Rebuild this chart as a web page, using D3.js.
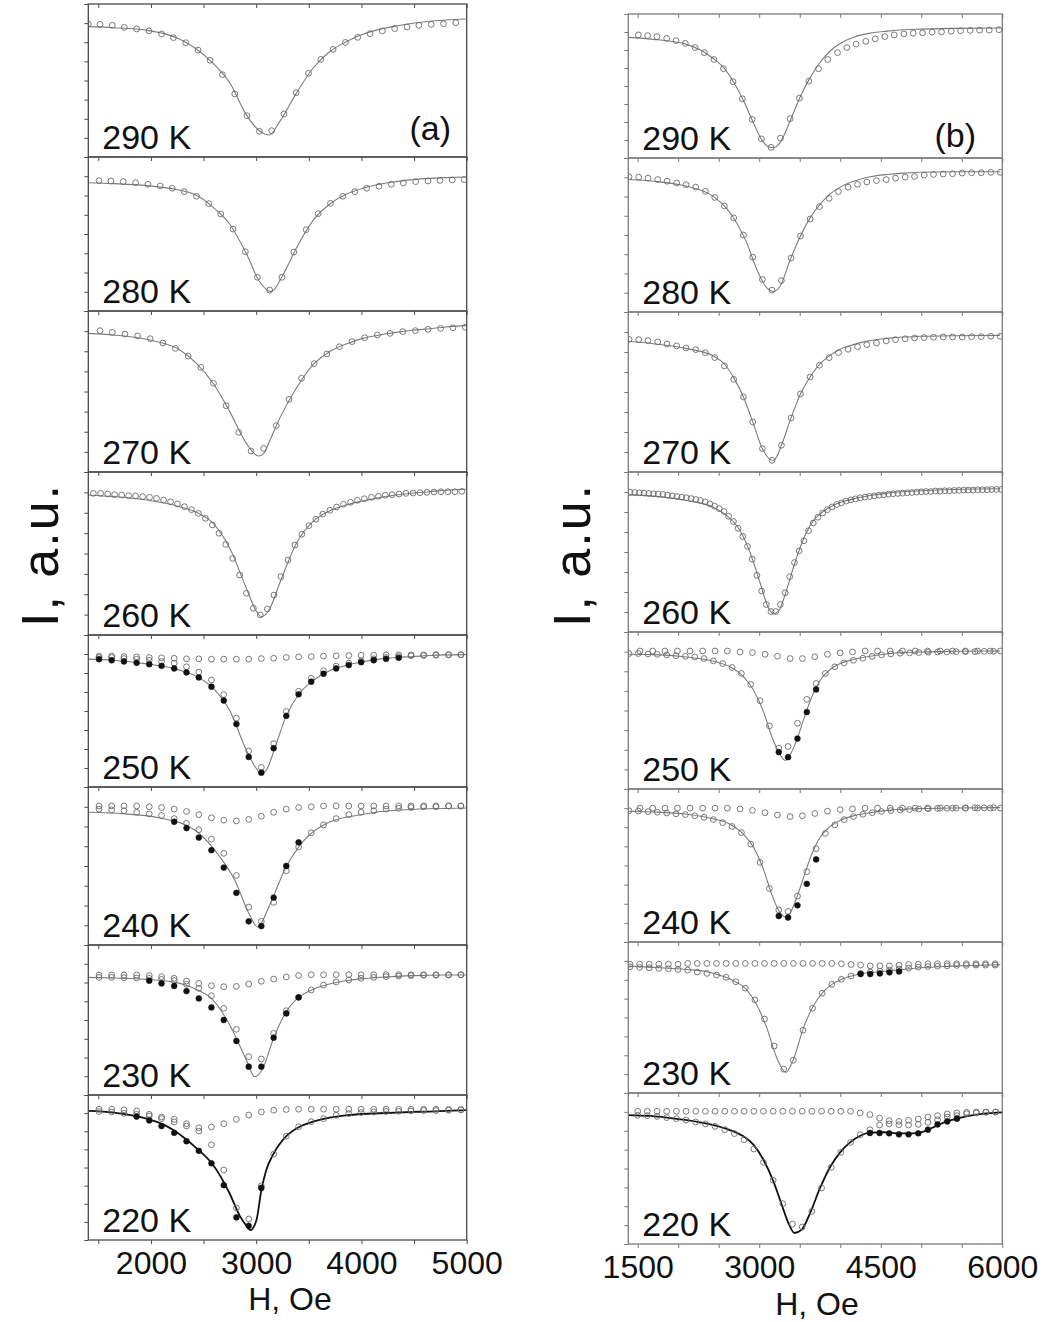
<!DOCTYPE html>
<html>
<head>
<meta charset="utf-8">
<script src="https://cdn.jsdelivr.net/npm/d3@7"></script>
<style>
  body { margin: 0; background: #fff; }
  svg { display: block; }
  text { font-family: "Liberation Sans", Arial, sans-serif; }
</style>
</head>
<body>
<div id="chart"></div>
<script>
// ---------- data (H in Oe, I in a.u. scaled 0..100 inside each panel) ----------
var temps = ["290 K", "280 K", "270 K", "260 K", "250 K", "240 K", "230 K", "220 K"];

// column (a)
var gridA290 = [1405,1516,1633,1747,1864,1981,2101,2214,2331,2448,2562,2679,2796,2913,3030,3147,3264,3380,3497,3614,3731,3848,3965,4082,4199,4316,4433,4546,4663,4780,4897];
var a290Open = [86.9,86.7,86.1,84.7,83.7,82.4,80.4,78.0,74.7,69.9,63.2,53.8,41.2,27.0,16.8,17.2,28.1,42.0,54.7,63.8,70.4,74.9,78.2,80.6,82.4,83.9,85.0,86.1,86.7,87.1,87.8];
var a290FitH = [1405,1643,1959,2117,2275,2432,2591,2749,2907,3033,3128,3223,3381,3539,3697,3855,4013,4171,4329,4487,4645,4803,4992];
var a290FitI = [85.2,84.5,82.8,80.8,76.9,70.6,61.2,48.5,27.5,17.0,14.4,23.1,41.6,58.0,68.8,75.4,80.2,83.4,85.6,87.4,88.7,89.5,90.2];

var gridA280 = [1507,1620,1737,1854,1971,2088,2202,2316,2433,2549,2663,2780,2897,3011,3128,3245,3358,3475,3589,3706,3823,3937,4050,4167,4284,4398,4515,4632,4746,4863,4976];
var a280Open = [84.6,84.4,84.0,83.3,82.3,81.2,79.7,77.5,74.5,69.7,63.0,53.2,38.5,21.9,13.6,21.9,38.3,52.8,63.2,69.9,74.5,77.5,79.7,81.0,82.3,83.1,84.0,84.4,84.8,85.1,85.3];
var a280FitH = [1405,1643,1959,2275,2432,2591,2749,2907,3033,3143,3254,3381,3539,3697,3855,4013,4171,4329,4487,4645,4803,4992];
var a280FitI = [83.3,82.7,81.4,78.4,75.1,67.3,56.3,37.2,19.0,12.6,23.4,40.7,58.7,69.3,75.8,79.7,82.3,84.0,85.3,86.1,86.6,87.0];

var gridA270 = [1516,1633,1753,1873,1993,2113,2233,2354,2474,2594,2714,2834,2951,3071,3191,3311,3431,3551,3671,3791,3911,4031,4151,4272,4392,4512,4632,4752,4869,4986];
var a270Open = [87.8,86.7,85.7,84.5,82.8,80.1,76.8,72.0,65.0,55.1,41.2,24.6,13.0,14.7,28.8,45.1,58.2,67.3,73.3,77.8,81.0,83.4,85.1,86.1,87.2,87.8,88.6,89.2,89.6,89.9];
var a270FitH = [1405,1643,1959,2275,2432,2591,2749,2907,3023,3071,3128,3223,3381,3539,3697,3855,4013,4171,4329,4487,4645,4803,4992];
var a270FitI = [86.1,85.1,82.4,75.8,67.5,55.1,37.5,17.8,9.9,11.6,19.3,33.3,52.0,66.5,74.7,79.5,83.0,85.1,86.7,88.0,89.0,90.1,90.9];

var gridA260 = [1453,1522,1589,1655,1722,1788,1854,1921,1987,2053,2120,2186,2252,2319,2385,2451,2518,2584,2647,2711,2777,2843,2907,2973,3039,3106,3169,3235,3302,3368,3434,3501,3567,3633,3700,3763,3829,3896,3962,4028,4095,4161,4227,4291,4357,4423,4490,4556,4622,4689,4755,4821,4888,4954];
var a260Open = [86.9,86.9,86.5,86.1,85.9,85.5,85.3,84.9,84.5,83.8,82.8,81.8,80.4,78.7,76.9,74.6,71.6,67.5,62.4,55.6,47.0,36.8,25.6,16.4,12.3,16.0,24.5,35.8,46.0,55.2,61.8,67.1,71.0,74.2,76.5,78.5,80.2,81.4,82.6,83.6,84.5,85.1,85.7,86.1,86.5,86.9,87.1,87.3,87.5,87.7,87.9,87.9,87.9,88.1];
var a260FitH = [1405,1643,1959,2275,2432,2591,2749,2907,3001,3049,3128,3223,3381,3539,3697,3855,4013,4171,4329,4487,4645,4803,4992];
var a260FitI = [85.9,84.9,82.8,78.7,75.3,68.5,53.2,28.6,14.7,11.2,16.0,31.7,56.2,69.5,76.1,79.8,82.2,84.3,85.9,87.1,87.9,88.8,89.4];

var gridALow = [1507,1627,1744,1864,1984,2101,2221,2338,2455,2575,2692,2812,2929,3049,3166,3286,3403,3523,3640,3760,3880,3997,4117,4234,4354,4471,4591,4708,4828,4945];

var a250Flat = [86.1,86.1,85.8,85.6,85.2,85.0,84.7,84.3,84.3,84.1,84.1,84.1,84.1,84.5,84.7,85.2,85.6,85.8,86.1,86.3,86.5,86.7,86.7,86.9,86.9,86.9,86.9,87.1,87.1,87.1];
var a250Open = [85.2,85.2,84.5,84.1,83.4,82.6,81.5,79.1,75.6,70.4,60.8,45.3,23.7,12.9,28.5,49.7,63.0,71.5,76.5,79.5,81.5,83.0,84.3,85.2,85.8,86.3,86.5,86.7,86.9,86.9];
var a250FillH = [1507,1627,1744,1864,1984,2101,2221,2338,2455,2575,2692,2812,2929,3049,3166,3286,3403,3523,3640,3760,3880,3997,4117,4234,4354];
var a250FillI = [84.1,83.4,82.6,81.7,80.8,79.7,78.0,75.4,72.1,66.0,56.9,41.4,19.8,9.4,25.5,46.8,61.0,69.3,74.5,78.0,80.2,82.1,83.4,84.3,85.0];
var a250FitH = [1405,1643,1959,2275,2432,2591,2749,2907,3001,3049,3096,3191,3286,3412,3539,3697,3855,4013,4171,4329,4487,4645,4803,4992];
var a250FitI = [84.1,83.4,81.0,76.9,72.8,65.1,50.3,24.2,12.2,8.9,11.1,28.5,46.8,61.7,69.9,76.5,80.0,82.4,84.1,85.2,85.8,86.5,86.9,87.1];

var a240Flat = [88,88,88,88,87.5,87,86,84.5,82.5,80.5,79,78.5,79.5,81.5,84,86,87,87.5,88,88,88,88,88,88,88,88,88,88,88,88];
var a240Open = [86,85.5,85,84,83,82,80,77,73,67,58,44,24,15,27,47,62,71,76,80,82.5,84,85,86,86.5,87,87.5,87.5,88,88];
var a240FillH = [2221,2338,2455,2575,2692,2812,2929,3049,3166,3286,3403];
var a240FillI = [78,74,68,60,49,33,15,12,30,50,65];
var a240FitH = [1405,1750,2085,2417,2606,2796,2938,3014,3128,3270,3459,3696,3980,4360,4995];
var a240FitI = [84,83,80.4,72.8,60.1,41.1,19,11.4,25.3,47.5,66.5,77.8,82.3,85.4,86.7];

var a230Flat = [80.0,80.0,80.0,80.0,79.6,78.9,77.8,76.0,74.4,72.9,72.2,72.4,74.0,75.8,77.3,78.7,79.6,80.2,80.2,80.2,80.2,80.2,80.2,80.2,80.2,80.2,80.2,80.2,80.2,80.2];
var a230Open = [78.4,78.4,78.2,78.0,77.8,77.1,76.2,73.8,71.1,66.2,57.8,43.8,25.6,24.0,41.1,56.2,65.1,70.0,73.3,75.3,76.7,77.8,78.4,78.9,79.3,79.6,79.8,79.8,80.0,80.0];
var a230FillH = [1984,2101,2221,2338,2455,2575,2692,2812,2929,3049,3166,3286,3403];
var a230FillI = [76.2,74.4,72.7,69.3,64.4,58.4,50.0,36.0,18.9,18.9,38.2,54.4,65.1];
var a230FitH = [1405,1643,1959,2275,2432,2591,2749,2907,2986,3064,3159,3286,3412,3539,3697,3855,4013,4171,4329,4487,4645,4803,4992];
var a230FitI = [78.4,78.0,77.1,74.4,70.4,63.3,46.7,23.3,12.2,17.8,36.7,55.6,65.6,70.4,74.0,76.2,77.6,78.4,79.1,79.6,79.8,80.0,80.0];

var a220Flat = [90.2,90.2,89.7,89.0,86.7,84.8,83.2,80.2,77.4,77.9,80.2,83.2,86.2,88.3,89.5,90.0,90.2,90.2,90.2,90.2,90.2,90.2,90.2,90.2,90.2,90.2,90.2,90.2,90.0,90.0];
var a220Open = [88.6,88.3,87.4,86.7,85.5,83.7,81.4,78.6,75.1,65.7,48.3,22.1,14.5,37.3,59.2,71.6,78.1,81.6,83.7,86.0,87.2,87.9,88.3,88.6,88.8,89.0,89.3,89.3,89.5,89.7];
var a220FillH = [1864,1984,2101,2221,2338,2455,2575,2692,2812,2929,3049];
var a220FillI = [85.1,82.5,78.6,73.9,68.1,61.5,52.9,37.8,15.6,9.8,35.9];
var a220FitH = [1405,1643,1959,2117,2275,2432,2591,2749,2843,2907,2944,3001,3049,3096,3159,3286,3412,3539,3697,3855,4013,4171,4329,4487,4645,4803,4992];
var a220FitI = [89.0,87.9,83.7,79.7,72.7,63.4,51.7,31.9,16.8,9.8,6.8,13.3,34.3,48.3,58.7,71.6,78.1,81.6,84.4,86.0,86.9,87.4,87.9,88.3,88.6,89.0,89.5];

// column (b)
var gridB290 = [1508,1623,1738,1858,1973,2088,2208,2323,2442,2558,2677,2792,2912,3027,3146,3262,3381,3496,3612,3731,3846,3966,4081,4196,4316,4431,4550,4666,4785,4900,5016,5135,5250,5370,5485,5604,5720,5839,5958];
var b290Open = [85.5,85.0,84.3,83.1,81.5,79.6,76.7,73.2,68.4,62.0,53.0,41.1,26.8,13.3,7.4,13.8,27.3,41.6,53.4,62.0,68.4,73.2,76.7,79.1,81.0,82.7,84.3,85.5,86.2,86.7,86.9,87.4,87.6,88.1,88.4,88.6,88.8,88.8,89.1];
var b290FitH = [1384,1693,2105,2434,2558,2681,2805,2928,3031,3113,3175,3258,3381,3505,3628,3752,3875,3999,4163,4369,4575,4781,4987,5398,5975];
var b290FitI = [83.8,82.4,78.9,69.1,62.9,53.0,39.9,24.5,12.6,7.8,7.1,10.7,25.7,42.3,55.8,66.5,74.3,79.5,83.8,86.7,88.1,89.1,89.5,90.0,90.3];

var gridB280 = [1393,1512,1627,1747,1862,1981,2097,2216,2335,2451,2570,2685,2805,2920,3039,3159,3274,3393,3509,3628,3743,3863,3978,4097,4213,4328,4447,4567,4682,4801,4917,5036,5151,5271,5386,5505,5621,5740,5859,5975];
var b280Open = [87.8,87.6,86.9,86.0,84.9,83.8,82.7,81.1,78.4,74.4,68.9,61.1,50.0,35.6,21.1,14.2,20.4,35.1,49.3,60.4,68.4,73.8,78.2,81.1,82.9,84.4,85.3,86.0,86.9,87.6,88.0,88.9,89.3,89.6,89.8,90.2,90.4,90.4,90.7,90.7];
var b280FitH = [1384,1693,2105,2434,2599,2722,2846,2969,3093,3175,3258,3381,3505,3628,3752,3875,3999,4163,4369,4575,4781,4987,5398,5975];
var b280FitI = [86.0,84.9,81.6,75.1,67.1,57.8,44.9,27.8,15.6,13.3,16.7,33.8,48.9,61.1,70.0,76.7,81.1,84.9,87.8,89.3,90.2,90.7,91.1,91.1];

var b270Open = [82.9,82.7,82.1,81.3,80.0,78.8,77.5,76.5,74.6,71.5,66.3,57.9,46.9,31.3,14.6,7.3,16.7,33.8,48.8,59.4,66.7,71.5,74.6,76.7,78.3,79.6,80.6,81.9,82.7,83.3,83.8,84.0,84.2,84.4,84.4,84.4,84.6,84.6,84.8,84.8];
var b270FitH = [1384,1693,2105,2434,2570,2685,2805,2920,3039,3134,3175,3216,3274,3393,3509,3628,3752,3875,3999,4163,4369,4575,4781,4987,5398,5975];
var b270FitI = [81.7,80.2,77.1,72.5,67.5,59.0,46.9,31.3,14.6,7.9,7.3,9.6,16.7,33.8,48.8,59.4,67.7,72.9,76.7,79.6,82.1,83.5,84.4,84.8,85.2,85.4];

var gridB260 = [1405,1463,1521,1579,1637,1695,1753,1811,1869,1927,1985,2043,2101,2159,2217,2275,2333,2391,2449,2507,2565,2623,2681,2739,2797,2855,2913,2971,3029,3087,3145,3203,3261,3319,3377,3435,3493,3551,3609,3667,3725,3783,3841,3899,3957,4015,4073,4131,4189,4247,4305,4363,4421,4479,4537,4595,4653,4711,4769,4827,4885,4943,5001,5059,5117,5175,5233,5291,5349,5407,5465,5523,5581,5639,5697,5755,5813,5871,5929,5987];
var b260Open = [87.4,87.2,87.0,86.8,86.6,86.4,86.2,86.0,85.5,85.1,84.7,84.3,83.9,83.4,82.8,82.2,81.3,80.1,78.6,77.1,75.3,72.3,69.0,64.8,59.7,53.5,45.5,35.4,25.6,17.2,12.8,12.8,17.2,24.5,34.6,43.4,50.7,57.0,63.3,68.1,71.7,74.4,76.5,78.2,79.7,80.7,81.8,82.6,83.2,83.9,84.3,84.7,85.1,85.5,85.7,86.2,86.4,86.6,86.8,87.0,87.2,87.4,87.6,87.8,87.8,88.1,88.1,88.3,88.3,88.5,88.5,88.7,88.7,88.7,88.9,88.9,88.9,89.1,89.1,89.1];
var b260FitH = [1384,1693,2105,2434,2599,2764,2887,3010,3113,3175,3237,3340,3422,3546,3669,3752,3957,4163,4369,4575,4987,5398,5975];
var b260FitI = [85.7,84.9,82.2,78.0,72.7,63.3,49.7,30.8,15.1,11.5,13.0,26.6,40.3,58.1,69.6,73.8,80.1,83.2,85.3,86.8,88.3,89.1,89.5];

var gridB250Flat = [1528,1685,1837,1990,2146,2302,2455,2607,2764,2916,3072,3225,3381,3533,3686,3842,3999,4151,4307,4460,4616,4768,4925,5077,5234,5386,5542,5695,5851,5975];
var gridB250 = [1393,1508,1627,1742,1858,1973,2088,2204,2319,2434,2549,2665,2780,2895,3010,3126,3241,3356,3472,3587,3702,3817,3933,4048,4163,4279,4394,4509,4624,4740,4855,4970,5086,5201,5316,5431,5547,5662,5777,5892];
var b250Flat = [87.9,87.9,87.9,87.9,87.9,87.9,87.9,87.9,87.3,86.9,85.8,84.6,83.1,83.1,84.2,85.8,86.7,87.3,87.9,87.9,87.9,87.9,87.9,87.9,87.9,87.9,87.9,87.9,87.9,87.9];
var b250Open = [86.3,86.3,86.0,85.8,85.4,84.9,84.5,84.1,83.1,81.6,79.9,77.4,73.6,66.6,56.2,40.2,26.0,27.1,41.9,57.1,67.2,73.6,77.8,80.3,82.0,83.3,84.5,85.4,86.0,86.5,86.7,86.9,87.1,87.3,87.3,87.5,87.5,87.5,87.7,87.7];
var b250FillH = [3241,3356,3472,3587,3702];
var b250FillI = [23.5,20.3,32.1,49.0,63.4];
var b250FitH = [1384,1693,2105,2434,2640,2805,2928,3052,3155,3258,3319,3381,3463,3546,3649,3752,3875,3999,4163,4369,4575,4781,4987,5398,5975];
var b250FitI = [85.8,85.6,84.1,81.4,77.8,71.5,63.0,49.3,33.4,21.8,18.2,21.8,31.3,44.0,58.8,69.3,76.1,79.9,82.5,84.6,86.0,86.9,87.3,87.7,87.9];

var b240Flat = [87.5,87.5,87.5,87.5,87.5,87.5,87.5,87.5,87.0,86.0,84.5,83.0,82.0,82.5,84.0,85.5,86.5,87.0,87.5,87.5,87.5,87.5,87.5,87.5,87.5,87.5,87.5,87.5,87.5,87.5];
var b240Open = [85.8,85.6,85.2,84.8,84.3,83.8,83.3,82.5,81.5,80.0,78.0,75.5,71.5,64.0,52.0,35.0,21.0,20.0,30.0,46.0,61.0,71.0,76.5,80.0,82.0,83.5,84.5,85.3,85.9,86.3,86.6,86.9,87.1,87.3,87.4,87.5,87.6,87.7,87.7,87.8];
var b240FillH = [3241,3356,3472,3587,3702];
var b240FillI = [17,16,24,38,54];
var b240FitH = [1384,1693,2105,2434,2640,2805,2928,3052,3155,3258,3319,3381,3463,3546,3649,3752,3875,3999,4163,4369,4575,4781,4987,5398,5975];
var b240FitI = [85.5,85.0,83.5,80.5,77.0,70.5,62.0,47.5,31.0,19.0,16.5,19.0,29.0,42.0,57.5,68.5,75.5,79.5,82.5,84.5,86.0,86.8,87.2,87.6,87.8];

var gridB230 = [1405,1524,1642,1761,1879,1998,2117,2235,2354,2472,2591,2710,2828,2947,3065,3184,3303,3421,3540,3658,3777,3896,4014,4133,4251,4370,4489,4607,4726,4844,4963,5082,5200,5319,5437,5556,5675,5793,5912];
var b230Flat = [85.3,85.3,85.3,85.3,85.3,85.3,85.8,85.8,85.8,85.8,85.8,85.8,85.8,85.8,85.8,85.8,85.8,85.8,85.8,85.8,85.8,85.8,85.6,85.1,84.7,84.2,84.2,84.2,84.7,85.1,85.3,85.6,85.6,85.6,85.6,85.6,85.6,85.6,85.6];
var b230Open = [83.6,83.2,82.9,82.5,82.3,81.8,81.4,80.1,79.2,78.1,76.6,73.7,69.4,61.7,49.0,31.1,15.8,21.7,41.6,56.2,66.1,72.0,75.3,77.5,79.2,80.1,80.7,81.4,82.1,82.7,83.4,83.8,84.0,84.2,84.5,84.5,84.7,84.7,84.7];
var b230FillH = [4251,4370,4489,4607,4726];
var b230FillI = [78.8,78.8,79.2,79.9,80.5];
var b230FitH = [1384,1693,2105,2352,2516,2681,2846,2969,3093,3216,3328,3422,3546,3669,3793,3916,4081,4246,4493,4781,4987,5398,5975];
var b230FitI = [84.0,83.2,81.8,80.3,77.9,74.4,68.3,58.4,43.1,23.4,13.6,22.3,43.1,57.8,67.2,72.6,76.6,78.8,80.3,81.8,82.9,84.0,84.9];

var gridB220 = [1500,1619,1739,1858,1978,2097,2216,2336,2455,2575,2694,2813,2933,3052,3172,3291,3410,3530,3649,3769,3888,4007,4127,4246,4366,4485,4604,4724,4843,4963,5082,5201,5321,5440,5560,5679,5798,5918];
var b220Flat = [87.9,87.9,87.9,87.9,87.9,87.9,87.9,87.9,87.9,87.9,87.9,87.9,87.9,87.9,87.9,87.9,87.9,87.9,87.9,87.9,87.9,87.9,87.9,86.8,85.7,83.4,81.7,81.2,81.9,82.8,84.1,85.0,86.1,86.8,87.2,87.4,87.4,87.4];
var b220Open = [85.2,85.0,84.5,83.7,83.0,82.1,80.8,79.5,77.9,75.7,73.1,69.1,62.9,54.1,42.2,26.7,13.2,11.3,21.6,37.1,50.8,60.7,67.3,72.4,75.7,78.8,79.5,79.0,78.8,79.2,80.6,82.3,84.1,85.0,86.3,86.8,87.2,87.4];
var b220FillH = [4366,4485,4604,4724,4843,4963,5082,5201,5321,5440];
var b220FillI = [73.5,73.5,73.3,72.6,72.6,73.3,75.7,79.2,81.2,83.0];
var b220FitH = [1384,1652,1858,2270,2599,2805,2928,3052,3175,3278,3360,3434,3525,3628,3751,3875,3999,4122,4246,4369,4534,4740,4904,5028,5151,5275,5440,5604,5769,6000];
var b220FitI = [85.4,84.8,83.7,80.6,76.2,71.3,65.8,55.8,41.5,26.0,13.9,7.3,9.5,20.5,37.1,51.0,60.7,67.3,71.7,73.7,74.0,73.3,73.3,74.4,77.3,80.4,83.0,85.0,86.3,87.2];

// ticks
var tickHA = [1500,2000,2500,3000,3500,4000,4500,5000];
var labelHA = [2000,3000,4000,5000];
var tickHB = [1500,2000,2500,3000,3500,4000,4500,5000,5500,6000];
var labelHB = [1500,3000,4500,6000];
var tickI = [0,12.5,25,37.5,50,62.5,75,87.5,100];

// ---------- layout ----------
var width = 1043, height = 1322;
var leftEdges = [4,157,311,472,635,787,945,1095,1240];
var rightEdges = [14,158,312,472,632,789,942,1093,1244];

function pts(h, i) { return d3.zip(h, i); }

var panelsA = [
  { fit: pts(a290FitH, a290FitI), open: [pts(gridA290, a290Open)], filled: [] },
  { fit: pts(a280FitH, a280FitI), open: [pts(gridA280, a280Open)], filled: [] },
  { fit: pts(a270FitH, a270FitI), open: [pts(gridA270, a270Open)], filled: [] },
  { fit: pts(a260FitH, a260FitI), open: [pts(gridA260, a260Open)], filled: [] },
  { fit: pts(a250FitH, a250FitI), open: [pts(gridALow, a250Flat), pts(gridALow, a250Open)], filled: pts(a250FillH, a250FillI) },
  { fit: pts(a240FitH, a240FitI), open: [pts(gridALow, a240Flat), pts(gridALow, a240Open)], filled: pts(a240FillH, a240FillI) },
  { fit: pts(a230FitH, a230FitI), open: [pts(gridALow, a230Flat), pts(gridALow, a230Open)], filled: pts(a230FillH, a230FillI) },
  { fit: pts(a220FitH, a220FitI), open: [pts(gridALow, a220Flat), pts(gridALow, a220Open)], filled: pts(a220FillH, a220FillI), dark: true }
];
var panelsB = [
  { fit: pts(b290FitH, b290FitI), open: [pts(gridB290, b290Open)], filled: [] },
  { fit: pts(b280FitH, b280FitI), open: [pts(gridB280, b280Open)], filled: [] },
  { fit: pts(b270FitH, b270FitI), open: [pts(gridB280, b270Open)], filled: [] },
  { fit: pts(b260FitH, b260FitI), open: [pts(gridB260, b260Open)], filled: [] },
  { fit: pts(b250FitH, b250FitI), open: [pts(gridB250Flat, b250Flat), pts(gridB250, b250Open)], filled: pts(b250FillH, b250FillI) },
  { fit: pts(b240FitH, b240FitI), open: [pts(gridB250Flat, b240Flat), pts(gridB250, b240Open)], filled: pts(b240FillH, b240FillI) },
  { fit: pts(b230FitH, b230FitI), open: [pts(gridB230, b230Flat), pts(gridB230, b230Open)], filled: pts(b230FillH, b230FillI) },
  { fit: pts(b220FitH, b220FitI), open: [pts(gridB220, b220Flat), pts(gridB220, b220Open)], filled: pts(b220FillH, b220FillI), dark: true }
];

var columns = [
  { id: "a", edges: leftEdges, xRange: [88.3, 466.7], xDomain: [1405, 5000], ticks: tickHA, labels: labelHA,
    panels: panelsA, frame: "#4a4a4a", tag: "(a)", tagX: 451, tagY: 140, yLabelX: 58, hLabelX: 290, hLabelY: 1310 },
  { id: "b", edges: rightEdges, xRange: [628.3, 1002.3], xDomain: [1384, 6000], ticks: tickHB, labels: labelHB,
    panels: panelsB, frame: "#7a7a7a", tag: "(b)", tagX: 976, tagY: 147, yLabelX: 590, hLabelX: 817, hLabelY: 1315 }
];

var svg = d3.select("#chart").append("svg")
  .attr("width", width)
  .attr("height", height);

columns.forEach(function(col) {
  var x = d3.scaleLinear().domain(col.xDomain).range(col.xRange);

  col.panels.forEach(function(p, k) {
    var top = col.edges[k], bottom = col.edges[k + 1];
    var y = d3.scaleLinear().domain([0, 100]).range([bottom, top]);
    var g = svg.append("g");

    var clipId = "clip-" + col.id + k;
    g.append("clipPath").attr("id", clipId)
      .append("rect")
        .attr("x", col.xRange[0]).attr("y", top)
        .attr("width", col.xRange[1] - col.xRange[0]).attr("height", bottom - top);

    var plot = g.append("g").attr("clip-path", "url(#" + clipId + ")");

    // fitted curve
    var line = d3.line()
      .x(d => x(d[0]))
      .y(d => y(d[1]))
      .curve(d3.curveMonotoneX);
    plot.append("path")
      .datum(p.fit)
      .attr("d", line)
      .attr("fill", "none")
      .attr("stroke", p.dark ? "#111" : "#7c7c7c")
      .attr("stroke-width", p.dark ? 1.8 : 1.1);

    // open circles
    p.open.forEach(function(series) {
      plot.selectAll(null)
        .data(series)
        .enter()
        .append("circle")
        .attr("cx", d => x(d[0]))
        .attr("cy", d => y(d[1]))
        .attr("r", 2.9)
        .attr("fill", "none")
        .attr("stroke", "#6a6a6a")
        .attr("stroke-width", 0.9);
    });

    // filled circles
    plot.selectAll(null)
      .data(p.filled)
      .enter()
      .append("circle")
      .attr("cx", d => x(d[0]))
      .attr("cy", d => y(d[1]))
      .attr("r", 2.9)
      .attr("fill", "#111")
      .attr("stroke", "#111")
      .attr("stroke-width", 0.6);

    // frame
    g.append("rect")
      .attr("x", col.xRange[0]).attr("y", top)
      .attr("width", col.xRange[1] - col.xRange[0]).attr("height", bottom - top)
      .attr("fill", "none")
      .attr("stroke", col.frame)
      .attr("stroke-width", 1.3);

    // inward ticks on top edge
    var topAxis = g.append("g")
      .attr("transform", `translate(0, ${top})`)
      .call(d3.axisTop(x).tickValues(col.ticks).tickSize(-4).tickFormat(""));
    topAxis.select(".domain").remove();
    topAxis.selectAll("line").attr("stroke", col.frame);

    // left ticks (no values, arbitrary units)
    var leftAxis = g.append("g")
      .attr("transform", `translate(${col.xRange[0]}, 0)`)
      .call(d3.axisLeft(y).tickValues(tickI).tickSize(4).tickFormat(""));
    leftAxis.select(".domain").remove();
    leftAxis.selectAll("line").attr("stroke", col.frame);

    // temperature label
    g.append("text")
      .attr("x", col.xRange[0] + 14)
      .attr("y", bottom - 8)
      .style("font-size", "34px")
      .attr("fill", "#111")
      .text(temps[k]);

    if (k === col.panels.length - 1) {
      var bAxis = g.append("g")
        .attr("transform", `translate(0, ${bottom})`)
        .call(d3.axisBottom(x).tickValues(col.ticks).tickSize(4).tickFormat(""));
      bAxis.select(".domain").remove();
      bAxis.selectAll("line").attr("stroke", col.frame);

      var lAxis = g.append("g")
        .attr("transform", `translate(0, ${bottom})`)
        .call(d3.axisBottom(x).tickValues(col.labels).tickSize(0).tickPadding(11).tickFormat(d3.format("d")));
      lAxis.select(".domain").remove();
      lAxis.selectAll("text")
        .style("font-size", "32px")
        .style("font-family", "'Liberation Sans', Arial, sans-serif")
        .attr("fill", "#111");
    }
  });

  // panel tag
  svg.append("text")
    .attr("x", col.tagX)
    .attr("y", col.tagY)
    .attr("text-anchor", "end")
    .style("font-size", "34px")
    .attr("fill", "#111")
    .text(col.tag);

  // axis titles
  svg.append("text")
    .attr("x", col.hLabelX)
    .attr("y", col.hLabelY)
    .attr("text-anchor", "middle")
    .style("font-size", "32px")
    .attr("fill", "#111")
    .text("H, Oe");

  svg.append("text")
    .attr("transform", `translate(${col.yLabelX}, 555) rotate(-90)`)
    .attr("text-anchor", "middle")
    .style("font-size", "52px")
    .style("letter-spacing", "2px")
    .attr("fill", "#111")
    .text("I, a.u.");
});
</script>
</body>
</html>
